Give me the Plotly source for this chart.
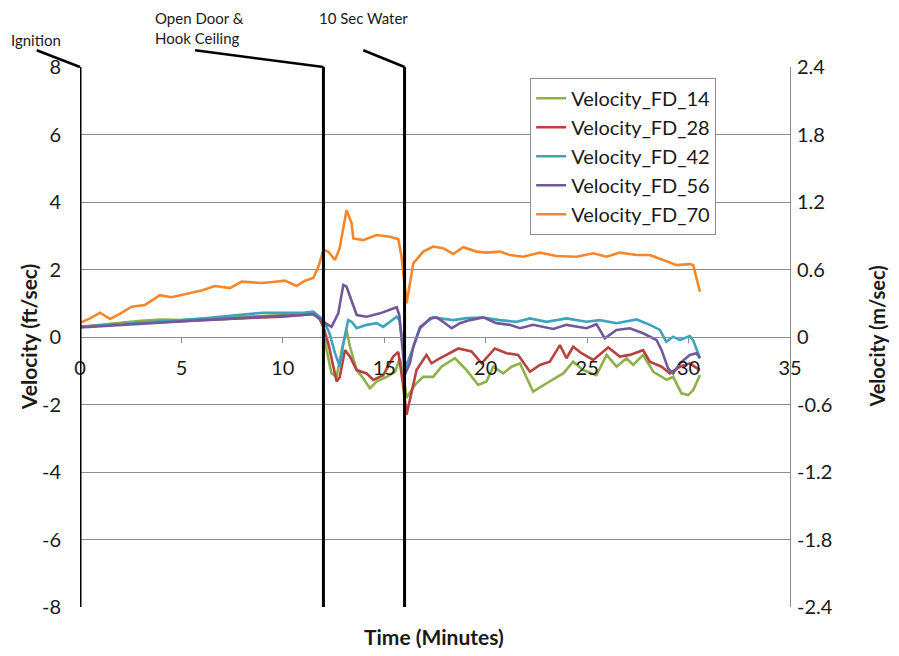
import plotly.graph_objects as go

# ---------------- data (minutes, ft/sec) ----------------
t_fd14 = [0, 1, 2, 3, 4, 5, 6, 7, 8, 9, 10, 11, 11.5, 11.8, 12, 12.16, 12.4, 12.65, 12.9, 13.14, 13.31,
          13.64, 13.96, 14.29, 14.62, 15.12, 15.53, 15.77, 15.95, 16.1, 16.51, 16.92, 17.41, 17.82, 18.48,
          19.06, 19.63, 20.04, 20.37, 20.86, 21.27, 21.69, 22.34, 23.0, 23.82, 24.31, 24.8, 25.46, 25.96,
          26.45, 26.94, 27.27, 27.76, 28.26, 28.92, 29.24, 29.65, 29.98, 30.23, 30.56]
v_fd14 = [0.3, 0.35, 0.42, 0.48, 0.52, 0.5, 0.55, 0.58, 0.6, 0.62, 0.65, 0.7, 0.72, 0.6, 0.3, -0.39, -1.08,
          -1.18, -0.39, 0.21, -0.29, -0.98, -1.22, -1.52, -1.32, -1.18, -1.03, -0.63, -1.2, -1.8, -1.42,
          -1.18, -1.18, -0.88, -0.63, -0.98, -1.42, -1.32, -0.88, -1.08, -0.88, -0.78, -1.62, -1.37, -1.08,
          -0.73, -0.98, -1.13, -0.53, -0.88, -0.63, -0.83, -0.53, -1.03, -1.27, -1.18, -1.67, -1.72, -1.57,
          -1.13]

t_fd28 = [0, 1, 2, 3, 4, 5, 6, 7, 8, 9, 10, 11, 11.5, 11.8, 12, 12.24, 12.65, 12.8, 13.06, 13.31, 13.64,
          14.13, 14.46, 14.95, 15.44, 15.69, 15.9, 16.1, 16.59, 17.08, 17.33, 17.74, 18.24, 18.65, 19.3,
          19.8, 20.45, 21.03, 21.6, 22.18, 22.67, 23.16, 23.66, 23.98, 24.31, 24.72, 25.3, 26.04, 26.61,
          27.1, 27.76, 28.09, 28.67, 29.08, 29.57, 30.06, 30.56]
v_fd28 = [0.3, 0.33, 0.38, 0.42, 0.45, 0.48, 0.5, 0.52, 0.55, 0.58, 0.6, 0.65, 0.68, 0.55, 0.3, -0.19,
          -1.32, -1.2, -0.39, -0.58, -0.98, -1.08, -1.27, -1.13, -0.58, -0.44, -1.3, -2.3, -0.98, -0.53,
          -0.78, -0.63, -0.48, -0.34, -0.43, -0.78, -0.34, -0.48, -0.53, -1.03, -0.83, -0.73, -0.24, -0.63,
          -0.29, -0.48, -0.68, -0.31, -0.58, -0.53, -0.39, -0.73, -0.88, -1.08, -0.88, -0.78, -0.98]

t_fd42 = [0, 1, 2, 3, 4, 5, 6, 7, 8, 9, 10, 11, 11.5, 12, 12.3, 12.57, 12.81, 12.98, 13.22, 13.39, 13.64,
          14.13, 14.62, 14.95, 15.61, 15.75, 16.05, 16.43, 16.76, 17.4, 18.4, 19.06, 19.88, 20.7, 21.52,
          22.18, 23.0, 23.98, 24.97, 25.63, 26.45, 27.44, 28.09, 28.59, 28.9, 29.24, 29.57, 30.06, 30.23,
          30.56]
v_fd42 = [0.3, 0.33, 0.38, 0.43, 0.46, 0.5, 0.55, 0.6, 0.65, 0.72, 0.72, 0.72, 0.75, 0.5, 0.11, -0.48,
          -0.88, -0.19, 0.5, 0.45, 0.26, 0.36, 0.41, 0.3, 0.6, 0.5, -0.9, -0.3, 0.3, 0.58, 0.5, 0.56, 0.58,
          0.5, 0.45, 0.55, 0.45, 0.55, 0.45, 0.5, 0.41, 0.52, 0.36, 0.21, -0.14, 0.01, -0.09, 0.03, -0.1,
          -0.63]

t_fd56 = [0, 1, 2, 3, 4, 5, 6, 7, 8, 9, 10, 11, 11.5, 12, 12.4, 12.73, 12.98, 13.14, 13.39, 13.64, 14.13,
          14.79, 15.61, 15.74, 16.02, 16.26, 16.43, 16.76, 17.25, 17.58, 17.9, 18.32, 18.73, 19.22, 19.88,
          20.53, 21.19, 21.69, 22.34, 23.33, 23.98, 24.97, 25.46, 25.87, 26.45, 27.1, 27.76, 28.42, 28.67,
          28.99, 29.24, 29.57, 30.06, 30.39, 30.56]
v_fd56 = [0.28, 0.32, 0.36, 0.4, 0.43, 0.47, 0.5, 0.53, 0.57, 0.6, 0.63, 0.65, 0.68, 0.45, 0.3, 0.7, 1.54,
          1.49, 1.1, 0.65, 0.6, 0.7, 0.88, 0.65, -1.1, -0.78, -0.29, 0.26, 0.55, 0.58, 0.45, 0.26, 0.41,
          0.5, 0.58, 0.41, 0.36, 0.26, 0.36, 0.24, 0.36, 0.26, 0.38, -0.04, 0.21, 0.26, 0.11, -0.09, -0.39,
          -0.93, -1.08, -0.78, -0.53, -0.48, -0.63]

t_fd70 = [0, 0.5, 0.99, 1.48, 2.0, 2.55, 3.2, 3.94, 4.5, 5.33, 6.0, 6.65, 7.39, 7.97, 8.95, 9.5, 10.1,
          10.68, 11.09, 11.5, 11.75, 12.0, 12.24, 12.57, 12.8, 13.14, 13.39, 13.47, 13.96, 14.62, 15.28,
          15.69, 15.85, 16.1, 16.43, 16.92, 17.41, 17.9, 18.4, 18.89, 19.55, 20.04, 20.7, 21.19, 21.85,
          22.67, 23.49, 24.48, 25.3, 25.96, 26.61, 27.44, 28.09, 28.75, 29.41, 30.06, 30.23, 30.56]
v_fd70 = [0.42, 0.55, 0.72, 0.53, 0.7, 0.9, 0.95, 1.24, 1.18, 1.3, 1.38, 1.51, 1.45, 1.64, 1.6, 1.63, 1.67,
          1.51, 1.67, 1.75, 2.08, 2.58, 2.53, 2.28, 2.63, 3.76, 3.37, 2.92, 2.87, 3.02, 2.97, 2.9, 2.38, 1.0,
          2.18, 2.53, 2.68, 2.63, 2.46, 2.66, 2.53, 2.5, 2.53, 2.43, 2.38, 2.5, 2.4, 2.38, 2.48, 2.38, 2.5,
          2.43, 2.43, 2.28, 2.13, 2.16, 2.13, 1.34]

series_names = ["Velocity_FD_14", "Velocity_FD_28", "Velocity_FD_42", "Velocity_FD_56", "Velocity_FD_70"]
series_colors = ["#8FB04A", "#B8423F", "#3FA3BD", "#71589A", "#F7862A"]

event_times = [0, 12, 16]
event_labels = ["Ignition", "Open Door &<br>Hook Ceiling", "10 Sec Water"]

x_ticks = [0, 5, 10, 15, 20, 25, 30, 35]
y_left_ticks = [-8, -6, -4, -2, 0, 2, 4, 6, 8]
y_left_text = ["-8", "-6", "-4", "-2", "0", "2", "4", "6", "8"]
y_right_ticks = [-2.4, -1.8, -1.2, -0.6, 0, 0.6, 1.2, 1.8, 2.4]
y_right_text = ["-2.4", "-1.8", "-1.2", "-0.6", "0", "0.6", "1.2", "1.8", "2.4"]

FONT = "Lato"
GRID = "#8c8c8c"
TXT = "#1a1a1a"

fig = go.Figure()
all_t = [t_fd14, t_fd28, t_fd42, t_fd56, t_fd70]
all_v = [v_fd14, v_fd28, v_fd42, v_fd56, v_fd70]
for name, col, tt, vv in zip(series_names, series_colors, all_t, all_v):
    fig.add_trace(go.Scatter(x=tt, y=vv, name=name, mode="lines",
                             line=dict(color=col, width=2.6)))

# dummy trace so the secondary (m/sec) axis is drawn
fig.add_trace(go.Scatter(x=[0], y=[0], yaxis="y2", mode="markers",
                         marker=dict(opacity=0), showlegend=False, hoverinfo="skip"))

# event vertical lines
for et in event_times:
    fig.add_shape(type="line", xref="x", yref="y", x0=et, x1=et, y0=-8, y1=8,
                  line=dict(color="black", width=3), layer="above")

# leader lines from labels (paper coords)
leaders = [(-0.061, 1.031, 0.0, 1.0), (0.162, 1.031, (12 / 35), 1.0), (0.399, 1.031, (16 / 35), 1.0)]
for x0, y0, x1, y1 in leaders:
    fig.add_shape(type="line", xref="paper", yref="paper", x0=x0, y0=y0, x1=x1, y1=y1,
                  line=dict(color="black", width=2.5))

ann_pos = [(-0.062, 1.05), (0.169, 1.072), (0.3986, 1.0907)]
for (ax, ay), txt in zip(ann_pos, event_labels):
    fig.add_annotation(xref="paper", yref="paper", x=ax, y=ay, text=txt, showarrow=False,
                       xanchor="center", yanchor="middle",
                       font=dict(family=FONT, size=15, color=TXT), align="left")

fig.add_annotation(xref="paper", yref="paper", x=0.4986, y=-0.054, text="<b>Time (Minutes)</b>",
                   xanchor="center", yanchor="middle",
                   showarrow=False, font=dict(family=FONT, size=21, color=TXT))
fig.add_annotation(xref="paper", yref="paper", x=-0.073, y=0.5, text="<b>Velocity (ft/sec)</b>",
                   xanchor="center", yanchor="middle",
                   textangle=-90, showarrow=False, font=dict(family=FONT, size=21, color=TXT))
fig.add_annotation(xref="paper", yref="paper", x=1.122, y=0.5, text="<b>Velocity (m/sec)</b>",
                   xanchor="center", yanchor="middle",
                   textangle=-90, showarrow=False, font=dict(family=FONT, size=20, color=TXT))

fig.update_layout(
    width=883, height=640,
    margin=dict(l=72, r=101, t=59, b=41, autoexpand=False),
    paper_bgcolor="white", plot_bgcolor="white",
    font=dict(family=FONT, size=20, color=TXT),
    xaxis=dict(range=[0, 35], tickvals=x_ticks, anchor="free", position=0.5,
               showline=True, linecolor=GRID, linewidth=1, ticks="outside", ticklen=5,
               tickcolor=GRID, showgrid=False, zeroline=False, ticklabelstandoff=8,
               automargin=False),
    yaxis=dict(range=[-8, 8], tickvals=y_left_ticks, ticktext=y_left_text, showgrid=True,
               gridcolor=GRID, gridwidth=1, zeroline=False, showline=False, ticks="",
               ticklabelstandoff=18, automargin=False),
    yaxis2=dict(range=[-2.4, 2.4], tickvals=y_right_ticks, ticktext=y_right_text, overlaying="y",
                side="right", showgrid=False, zeroline=False, showline=True, linecolor=GRID,
                linewidth=1, ticks="", ticklabelstandoff=2, automargin=False),
    legend=dict(x=0.634, y=0.98, xanchor="left", yanchor="top", bgcolor="white",
                bordercolor=GRID, borderwidth=1, font=dict(family=FONT, size=20),
                tracegroupgap=0, itemwidth=30),
    showlegend=True,
)

fig.write_html("out.html")
